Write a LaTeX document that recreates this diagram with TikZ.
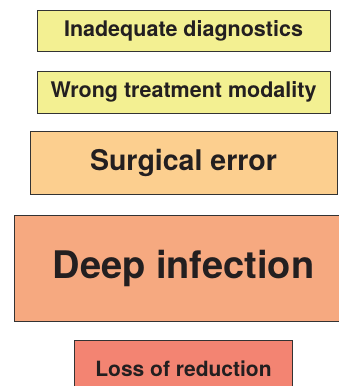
\documentclass[tikz,border=0pt]{standalone}
\usepackage{fontspec}
\setmainfont{TeX Gyre Heros}
\usetikzlibrary{positioning}

\definecolor{causefill}{RGB}{243,240,146}
\definecolor{errorfill}{RGB}{252,207,143}
\definecolor{infectfill}{RGB}{246,169,128}
\definecolor{lossfill}{RGB}{243,132,114}
\definecolor{boxtext}{RGB}{35,31,32}

\begin{document}
\begin{tikzpicture}
		[x=1pt,y=1pt,
		box/.style={rectangle,draw=black!80,line width=0.8pt,inner sep=0pt,text=boxtext},
		cause/.style={box,fill=causefill,minimum width=293pt,minimum height=41.5pt,font=\bfseries\fontsize{21.5}{26}\selectfont},
		surgery/.style={box,fill=errorfill,minimum width=307pt,minimum height=63pt,font=\bfseries\fontsize{28.5}{34}\selectfont},
		infection/.style={box,fill=infectfill,minimum width=338pt,minimum height=106pt,font=\bfseries\fontsize{38}{44}\selectfont},
		loss/.style={box,fill=lossfill,minimum width=218pt,minimum height=57pt,font=\bfseries\fontsize{21}{26}\selectfont}]
		\useasboundingbox (0,0) rectangle (338,-386);
		\node [cause] (b1) at (183.5,-31) {Inadequate diagnostics};
		\node [cause] (b2) [below=19pt of b1] {Wrong treatment modality};
		\node [surgery] (b3) [below=18pt of b2] {Surgical error};
		\node [infection] (b4) [below=20pt of b3] {Deep infection};
		\node [loss] (b5) [below=18pt of b4] {Loss of reduction};
	\end{tikzpicture}
\end{document}
